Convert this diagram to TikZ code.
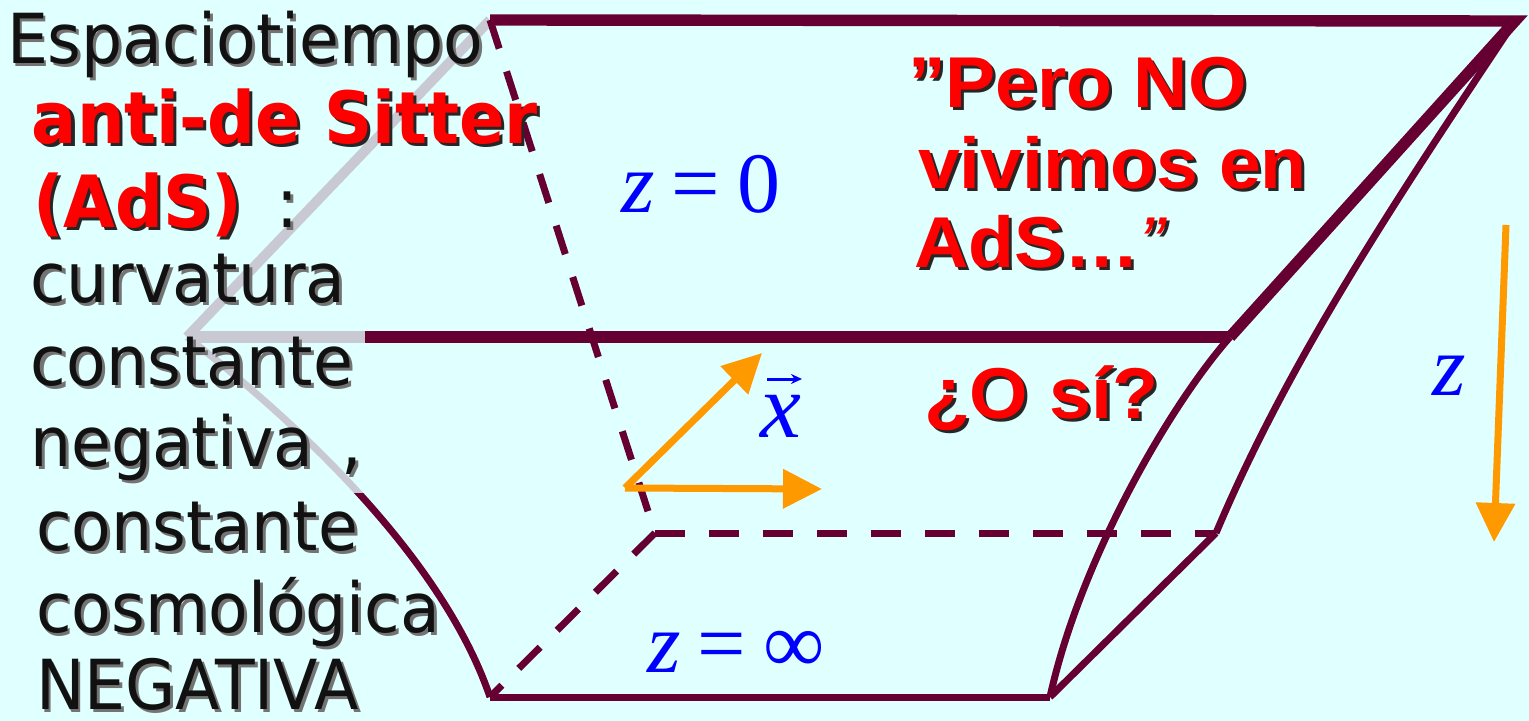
\documentclass[tikz,border=0pt]{standalone}
\usepackage{fontspec}
\usetikzlibrary{arrows.meta,calc}
\newfontfamily\tah[FakeStretch=0.94]{DejaVu Sans}
\newfontfamily\tahb[FakeStretch=0.93]{DejaVu Sans}
\newfontfamily\arb[FakeStretch=1.045]{Liberation Sans}
\newfontfamily\tnr{Liberation Serif}
\definecolor{bg}{HTML}{E0FFFF}
\definecolor{mar}{HTML}{660033}
\definecolor{gry}{HTML}{C9C9D4}
\definecolor{org}{HTML}{FF9900}
\definecolor{ink}{HTML}{111111}
\definecolor{red0}{HTML}{FF0000}
\definecolor{blu}{HTML}{0000FF}
\newcommand{\shtxt}[7]{%
  \node[txt,#4,text=#5] (#1s) at (#2+3,#3+3) {#7};
  \node[txt,#4,text=#6] (#1) at (#2,#3) {#7};
}
\tikzset{
  mthick/.style={draw=mar, line width=5.7pt, line join=miter},
  mthin/.style={draw=mar, line width=3.5pt},
  mdash/.style={draw=mar, line width=3.5pt, dash pattern=on 15pt off 12pt},
  gthick/.style={draw=gry, line width=5pt},
  gthin/.style={draw=gry, line width=3.5pt},
  oarrow/.style={draw=org, line width=3.5pt, -{Triangle[length=19.5pt,width=19pt]}},
  txt/.style={inner sep=0pt, outer sep=0pt, anchor=base west},
  lreg/.style={font=\tah\fontsize{34.5pt}{40pt}\selectfont},
  lbold/.style={font=\tahb\bfseries\fontsize{36pt}{42pt}\selectfont},
  rbold/.style={font=\arb\bfseries\fontsize{36pt}{42pt}\selectfont},
  mfont/.style={font=\tnr\fontsize{43pt}{50pt}\selectfont, text=blu},
}
\begin{document}
\begin{tikzpicture}[x=0.5pt,y=-0.5pt]
\useasboundingbox (0,0) rectangle (1529,721);
\fill[bg] (0,0) rectangle (1529,721);
% corners
\coordinate (A) at (490,20);
\coordinate (B) at (1515,21);
\coordinate (C) at (1230,337);
\coordinate (D) at (187,337);
\coordinate (M) at (365,337);
\coordinate (E) at (655,533);
\coordinate (F) at (1216,533);
\coordinate (G) at (1050,697);
\coordinate (H) at (490,697);
% hidden (grey) edges
\draw[gthick] (A) -- (D);
\draw[gthick, line width=5.5pt] (D) -- (M);
\begin{scope}
  \clip (0,0) rectangle (800,493);
  \draw[gthin] (D) .. controls (310,432) and (445,565) .. (H);
\end{scope}
\begin{scope}
  \clip (0,493) rectangle (800,721);
  \draw[mthin] (D) .. controls (310,432) and (445,565) .. (H);
\end{scope}
% visible edges
\draw[mthick] (A) -- (B) -- (C);
\draw[mthick] (M) -- (C);
\draw[mthin] (B) .. controls (1386,214) and (1286,367) .. (F);
\draw[mthin] (C) .. controls (1170,405) and (1080,560) .. (G);
\draw[mthin] (F) -- (G);
\draw[mthin] (H) -- (G);
\draw[mdash] (A) -- (E);
\draw[mdash] (E) -- (F);
\draw[mdash] (E) -- (H);
% orange arrows
\coordinate (O) at (625,488);
\coordinate (T1) at (762,353);
\coordinate (T2) at (822,489);
\coordinate (Zt) at (1506,225);
\coordinate (Zb) at (1494,542);
\draw[oarrow] (O) -- (T1);
\draw[oarrow] (O) -- (T2);
\draw[oarrow] (Zt) -- (Zb);
% math labels
\node[txt, mfont] (z0) at (621,213) {\textit{z}\hspace{8.5pt}=\hspace{8.7pt}0};
\node[txt, mfont] (zinf) at (647,672) {\textit{z}\hspace{8.5pt}=\hspace{8.7pt}∞};
\node[txt, mfont, font=\tnr\fontsize{46pt}{52pt}\selectfont] (xv) at (760,437) {\textit{x}};
\draw[blu, line width=1.5pt, -{Stealth[length=5.5pt,width=5pt]}] ($(xv.base west)+(7,-58)$) -- ($(xv.base west)+(42,-58)$);
\node[txt, mfont] (zr) at (1432,395) {\textit{z}};
% left text
\shtxt{l1}{7}{64}{lreg}{black!55}{ink}{Espaciotiempo}
\shtxt{l2}{32}{144}{lbold}{black!85}{red0}{anti-de Sitter}
\shtxt{l3}{33}{228}{lbold}{black!85}{red0}{(AdS)}
\shtxt{l3b}{276}{228}{lreg}{black!55}{ink}{:}
\shtxt{l4}{31}{303}{lreg}{black!55}{ink}{curvatura}
\shtxt{l5}{31}{385}{lreg}{black!55}{ink}{constante}
\shtxt{l6}{30}{466}{lreg}{black!55}{ink}{negativa\hspace{14pt},}
\shtxt{l7}{36}{550}{lreg}{black!55}{ink}{constante}
\shtxt{l8}{36}{632}{lreg}{black!55}{ink}{cosmológica}
\shtxt{l9}{36}{709}{lreg}{black!55}{ink}{NEGATIVA}
% right text
\shtxt{r1}{908}{108}{rbold}{black!85}{red0}{”Pero NO}
\shtxt{r2}{918}{189}{rbold}{black!85}{red0}{vivimos en}
\shtxt{r3}{914}{268}{rbold}{black!85}{red0}{AdS…\textit{\mdseries ”}}
\shtxt{r4}{924}{418}{rbold}{black!85}{red0}{¿O sí?}
\end{tikzpicture}
\end{document}
